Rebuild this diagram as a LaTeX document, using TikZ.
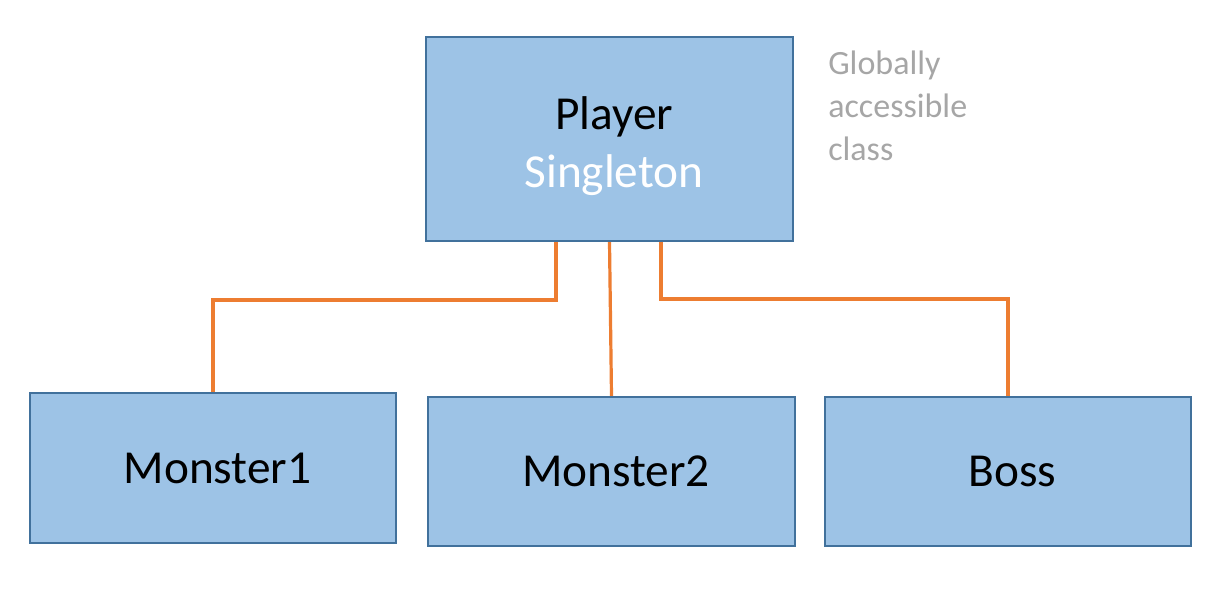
\documentclass[tikz,border=0pt]{standalone}
\usepackage{fontspec}
\setmainfont{Carlito}
\definecolor{boxfill}{RGB}{157,195,230}
\definecolor{boxline}{RGB}{65,113,156}
\definecolor{conncol}{RGB}{237,125,49}
\definecolor{notecol}{RGB}{166,166,166}
\newcommand{\shiftr}{\hspace*{6.75pt}}
\tikzset{
  classbox/.style={draw=boxline, fill=boxfill, line width=1.6pt, rectangle, inner sep=0pt,
    align=center, font=\fontsize{35.5pt}{44pt}\selectfont},
  conn/.style={draw=conncol, line width=2.4pt},
  note/.style={text=notecol, inner sep=0pt, align=left, anchor=north west,
    font=\fontsize{25.5pt}{32.25pt}\selectfont}
}
\begin{document}
\begin{tikzpicture}[x=0.75pt, y=-0.75pt]
\useasboundingbox (0,0) rectangle (1231,603);
\node[classbox, minimum width=367*0.75pt, minimum height=204*0.75pt] (player) at (609.5,139)
  {\shiftr\rule{0pt}{1em}Player\\\shiftr\textcolor{white}{Singleton}};
\node[classbox, minimum width=366*0.75pt, minimum height=150*0.75pt] (m1) at (213,468) {\shiftr Monster1};
\node[classbox, minimum width=367*0.75pt, minimum height=149*0.75pt] (m2) at (611.5,471.5) {\shiftr Monster2};
\node[classbox, minimum width=366*0.75pt, minimum height=149*0.75pt] (boss) at (1008,471.5) {\shiftr Boss};
\node[note] (gnote) at (828,51) {Globally\\accessible\\class};
\draw[conn] (player.south) ++(-53.5,0) -- ++(0,58) -| (m1.north);
\draw[conn] (player.south) -- (m2.north);
\draw[conn] (player.south) ++(51.5,0) -- ++(0,57) -| (boss.north);
\end{tikzpicture}
\end{document}
